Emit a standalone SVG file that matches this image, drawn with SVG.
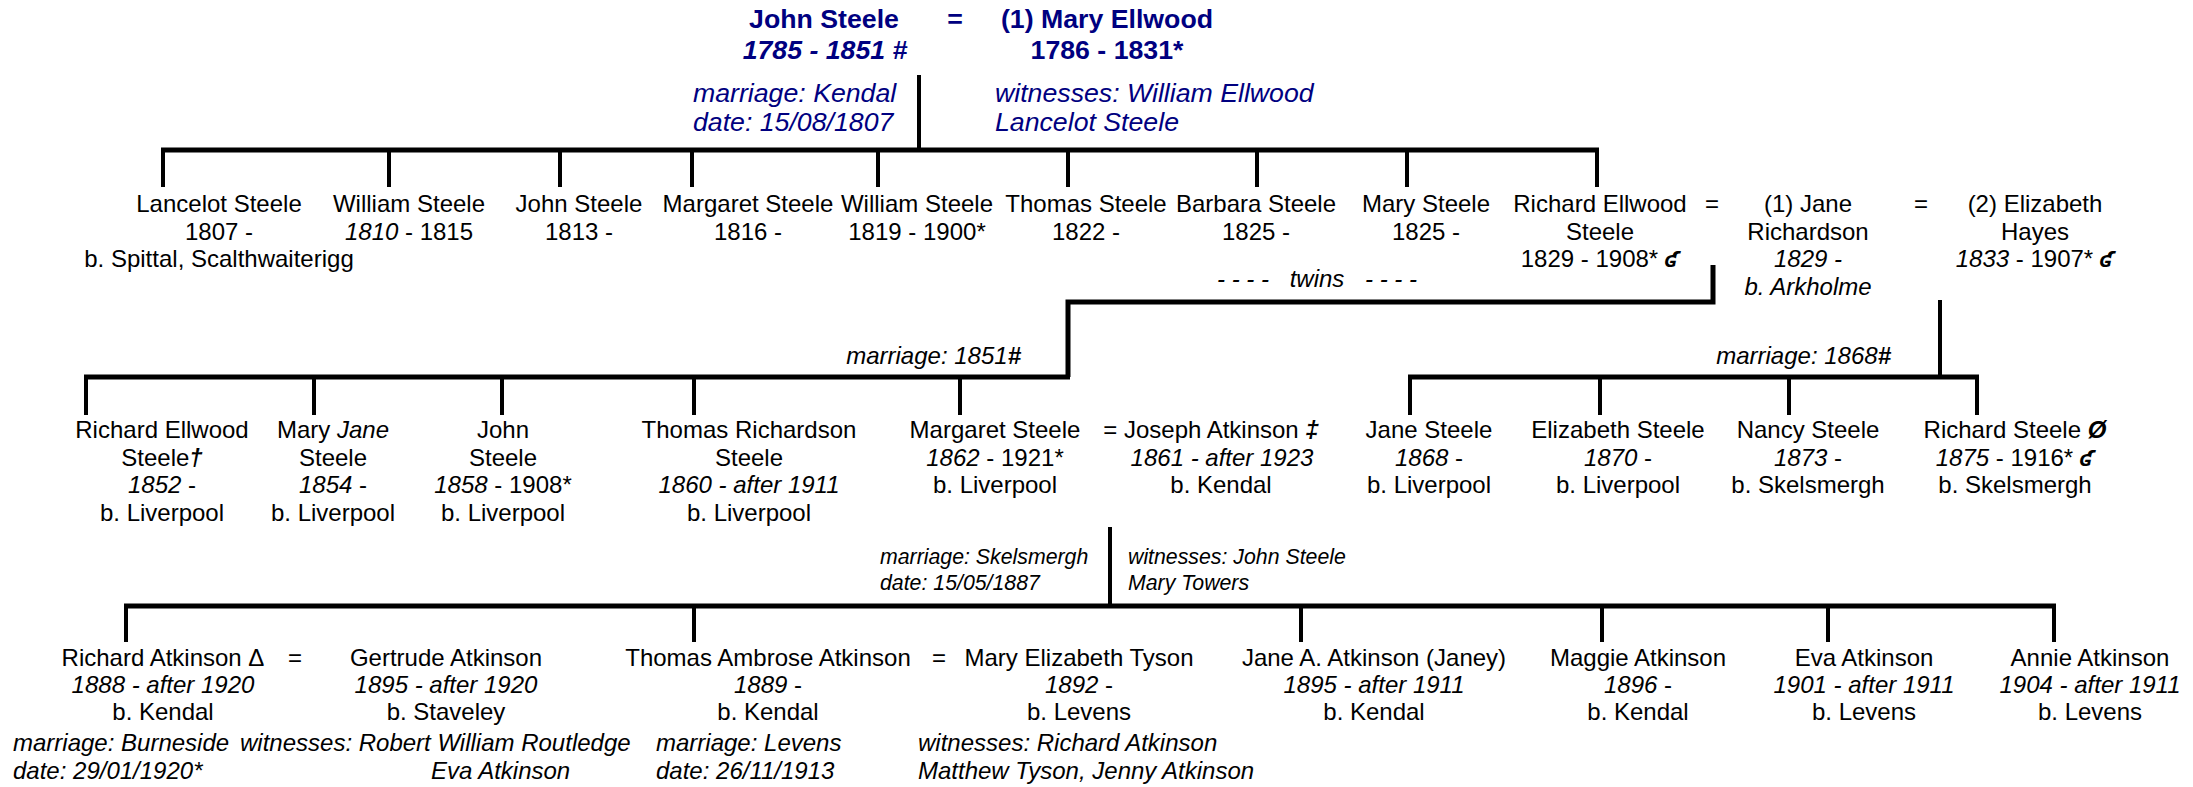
<svg xmlns="http://www.w3.org/2000/svg" width="2193" height="787" viewBox="0 0 2193 787">
<style>
text{font-family:"Liberation Sans",Arial,"DejaVu Sans",sans-serif;font-size:24px;fill:#000;text-anchor:middle}
.t{font-size:26.7px;font-weight:bold;fill:#000080}
.b{font-size:26.7px;fill:#000080;font-style:italic;text-anchor:start}
.i{font-style:italic}
.s{font-size:21.3px;font-style:italic;text-anchor:start}
.n{font-style:italic;text-anchor:start}
.e{text-anchor:end}
.bi{font-weight:bold;font-style:italic}
.sym{font-family:"DejaVu Sans","Liberation Sans",sans-serif;font-weight:bold;font-style:italic;font-size:21px}
.bar{stroke:#000;stroke-width:5;fill:none}
.v{stroke:#000;stroke-width:4;fill:none}
</style>
<g id="connectors">
<line class="v" x1="919" y1="75" x2="919" y2="150"/>
<line class="bar" x1="161" y1="150" x2="1599" y2="150"/>
<path class="v" d="M163 150V187M389 150V187M560 150V187M692 150V187M878 150V187M1068 150V187M1257 150V187M1407 150V187M1597 150V187"/>
<path class="bar" d="M1713 265V302H1068V377"/>
<line class="bar" x1="84" y1="377" x2="1070" y2="377"/>
<path class="v" d="M86 377V415M314 377V415M502 377V415M694 377V415M960 377V415"/>
<line class="v" x1="1940" y1="300" x2="1940" y2="377"/>
<line class="bar" x1="1408" y1="377" x2="1979" y2="377"/>
<path class="v" d="M1410 377V415M1600 377V415M1789 377V415M1977 377V415"/>
<line class="v" x1="1110" y1="527" x2="1110" y2="606"/>
<line class="bar" x1="124" y1="606" x2="2056" y2="606"/>
<path class="v" d="M126 606V642M694 606V642M1301 606V642M1602 606V642M1828 606V642M2054 606V642"/>
</g>
<g id="john-steele-mary-ellwood">
<text class="t" x="824" y="28">John Steele</text>
<text class="t" x="955" y="28">=</text>
<text class="t" x="1107" y="28">(1) Mary Ellwood</text>
<text class="t" x="825" y="59"><tspan font-style="italic">1785 - 1851 #</tspan></text>
<text class="t" x="1107" y="59">1786 - 1831*</text>
<text class="b" x="693" y="102">marriage: Kendal</text>
<text class="b" x="693" y="131">date: 15/08/1807</text>
<text class="b" x="995" y="102">witnesses: William Ellwood</text>
<text class="b" x="995" y="131">Lancelot Steele</text>
</g>
<g id="lancelot-steele">
<text x="219" y="212">Lancelot Steele</text>
<text x="219" y="239.5">1807 -</text>
<text x="219" y="267">b. Spittal, Scalthwaiterigg</text>
</g>
<g id="william-steele-1810">
<text x="409" y="212">William Steele</text>
<text x="409" y="239.5"><tspan class="i">1810</tspan> - 1815</text>
</g>
<g id="john-steele-1813">
<text x="579" y="212">John Steele</text>
<text x="579" y="239.5">1813 -</text>
</g>
<g id="margaret-steele-1816">
<text x="748" y="212">Margaret Steele</text>
<text x="748" y="239.5">1816 -</text>
</g>
<g id="william-steele-1819">
<text x="917" y="212">William Steele</text>
<text x="917" y="239.5">1819 - 1900*</text>
</g>
<g id="thomas-steele-1822">
<text x="1086" y="212">Thomas Steele</text>
<text x="1086" y="239.5">1822 -</text>
</g>
<g id="barbara-steele">
<text x="1256" y="212">Barbara Steele</text>
<text x="1256" y="239.5">1825 -</text>
</g>
<g id="mary-steele">
<text x="1426" y="212">Mary Steele</text>
<text x="1426" y="239.5">1825 -</text>
</g>
<g id="twins">
<text class="i" x="1243" y="287">- - - -</text>
<text class="i" x="1317" y="287">twins</text>
<text class="i" x="1391" y="287">- - - -</text>
</g>
<g id="richard-ellwood-steele">
<text x="1600" y="212">Richard Ellwood</text>
<text x="1600" y="239.5">Steele</text>
<text x="1600" y="267">1829 - 1908* <tspan class="sym">ʛ</tspan></text>
<text x="1712" y="212">=</text>
</g>
<g id="jane-richardson">
<text x="1808" y="212">(1) Jane</text>
<text x="1808" y="239.5">Richardson</text>
<text class="i" x="1808" y="267">1829 -</text>
<text class="i" x="1808" y="295">b. Arkholme</text>
<text x="1921" y="212">=</text>
</g>
<g id="elizabeth-hayes">
<text x="2035" y="212">(2) Elizabeth</text>
<text x="2035" y="239.5">Hayes</text>
<text x="2035" y="267"><tspan class="i">1833</tspan> - 1907* <tspan class="sym">ʛ</tspan></text>
</g>
<g id="marriage-labels">
<text class="i e" x="1021" y="364">marriage: 1851<tspan class="bi">#</tspan></text>
<text class="i e" x="1891" y="364">marriage: 1868<tspan class="bi">#</tspan></text>
</g>
<g id="richard-ellwood-steele-1852">
<text x="162" y="438">Richard Ellwood</text>
<text x="162" y="466">Steele<tspan class="bi">†</tspan></text>
<text x="162" y="493"><tspan class="i">1852</tspan> -</text>
<text x="162" y="521">b. Liverpool</text>
</g>
<g id="mary-jane-steele">
<text x="333" y="438">Mary <tspan class="i">Jane</tspan></text>
<text x="333" y="466">Steele</text>
<text x="333" y="493"><tspan class="i">1854</tspan> -</text>
<text x="333" y="521">b. Liverpool</text>
</g>
<g id="john-steele-1858">
<text x="503" y="438">John</text>
<text x="503" y="466">Steele</text>
<text x="503" y="493"><tspan class="i">1858</tspan> - 1908*</text>
<text x="503" y="521">b. Liverpool</text>
</g>
<g id="thomas-richardson-steele">
<text x="749" y="438">Thomas Richardson</text>
<text x="749" y="466">Steele</text>
<text class="i" x="749" y="493">1860 - after 1911</text>
<text x="749" y="521">b. Liverpool</text>
</g>
<g id="margaret-steele-1862">
<text x="995" y="438">Margaret Steele</text>
<text x="995" y="466"><tspan class="i">1862</tspan> - 1921*</text>
<text x="995" y="493">b. Liverpool</text>
</g>
<g id="joseph-atkinson">
<text x="1211" y="438">= Joseph Atkinson <tspan class="bi">‡</tspan></text>
<text class="i" x="1222" y="466">1861 - after 1923</text>
<text x="1221" y="493">b. Kendal</text>
</g>
<g id="jane-steele-1868">
<text x="1429" y="438">Jane Steele</text>
<text x="1429" y="466"><tspan class="i">1868</tspan> -</text>
<text x="1429" y="493">b. Liverpool</text>
</g>
<g id="elizabeth-steele-1870">
<text x="1618" y="438">Elizabeth Steele</text>
<text x="1618" y="466"><tspan class="i">1870</tspan> -</text>
<text x="1618" y="493">b. Liverpool</text>
</g>
<g id="nancy-steele">
<text x="1808" y="438">Nancy Steele</text>
<text x="1808" y="466"><tspan class="i">1873</tspan> -</text>
<text x="1808" y="493">b. Skelsmergh</text>
</g>
<g id="richard-steele-1875">
<text x="2015" y="438">Richard Steele <tspan class="bi">Ø</tspan></text>
<text x="2015" y="466"><tspan class="i">1875</tspan> - 1916* <tspan class="sym">ʛ</tspan></text>
<text x="2015" y="493">b. Skelsmergh</text>
</g>
<g id="atkinson-marriage">
<text class="s" x="880" y="564">marriage: Skelsmergh</text>
<text class="s" x="880" y="590">date: 15/05/1887</text>
<text class="s" x="1128" y="564">witnesses: John Steele</text>
<text class="s" x="1128" y="590">Mary Towers</text>
</g>
<g id="richard-atkinson">
<text x="163" y="666">Richard Atkinson Δ</text>
<text class="i" x="163" y="693">1888 - after 1920</text>
<text x="163" y="720">b. Kendal</text>
<text x="295" y="666">=</text>
<text class="n" x="13" y="751">marriage: Burneside</text>
<text class="n" x="13" y="779">date: 29/01/1920*</text>
</g>
<g id="gertrude-atkinson">
<text x="446" y="666">Gertrude Atkinson</text>
<text class="i" x="446" y="693">1895 - after 1920</text>
<text x="446" y="720">b. Staveley</text>
<text class="n" x="240" y="751">witnesses: Robert William Routledge</text>
<text class="n" x="431" y="779">Eva Atkinson</text>
</g>
<g id="thomas-ambrose-atkinson">
<text x="768" y="666">Thomas Ambrose Atkinson</text>
<text x="768" y="693"><tspan class="i">1889</tspan> -</text>
<text x="768" y="720">b. Kendal</text>
<text x="939" y="666">=</text>
<text class="n" x="656" y="751">marriage: Levens</text>
<text class="n" x="656" y="779">date: 26/11/1913</text>
</g>
<g id="mary-elizabeth-tyson">
<text x="1079" y="666">Mary Elizabeth Tyson</text>
<text x="1079" y="693"><tspan class="i">1892</tspan> -</text>
<text x="1079" y="720">b. Levens</text>
<text class="n" x="918" y="751">witnesses: Richard Atkinson</text>
<text class="n" x="918" y="779">Matthew Tyson, Jenny Atkinson</text>
</g>
<g id="jane-a-atkinson">
<text x="1374" y="666">Jane A. Atkinson (Janey)</text>
<text class="i" x="1374" y="693">1895 - after 1911</text>
<text x="1374" y="720">b. Kendal</text>
</g>
<g id="maggie-atkinson">
<text x="1638" y="666">Maggie Atkinson</text>
<text x="1638" y="693"><tspan class="i">1896</tspan> -</text>
<text x="1638" y="720">b. Kendal</text>
</g>
<g id="eva-atkinson">
<text x="1864" y="666">Eva Atkinson</text>
<text class="i" x="1864" y="693">1901 - after 1911</text>
<text x="1864" y="720">b. Levens</text>
</g>
<g id="annie-atkinson">
<text x="2090" y="666">Annie Atkinson</text>
<text class="i" x="2090" y="693">1904 - after 1911</text>
<text x="2090" y="720">b. Levens</text>
</g>
</svg>
